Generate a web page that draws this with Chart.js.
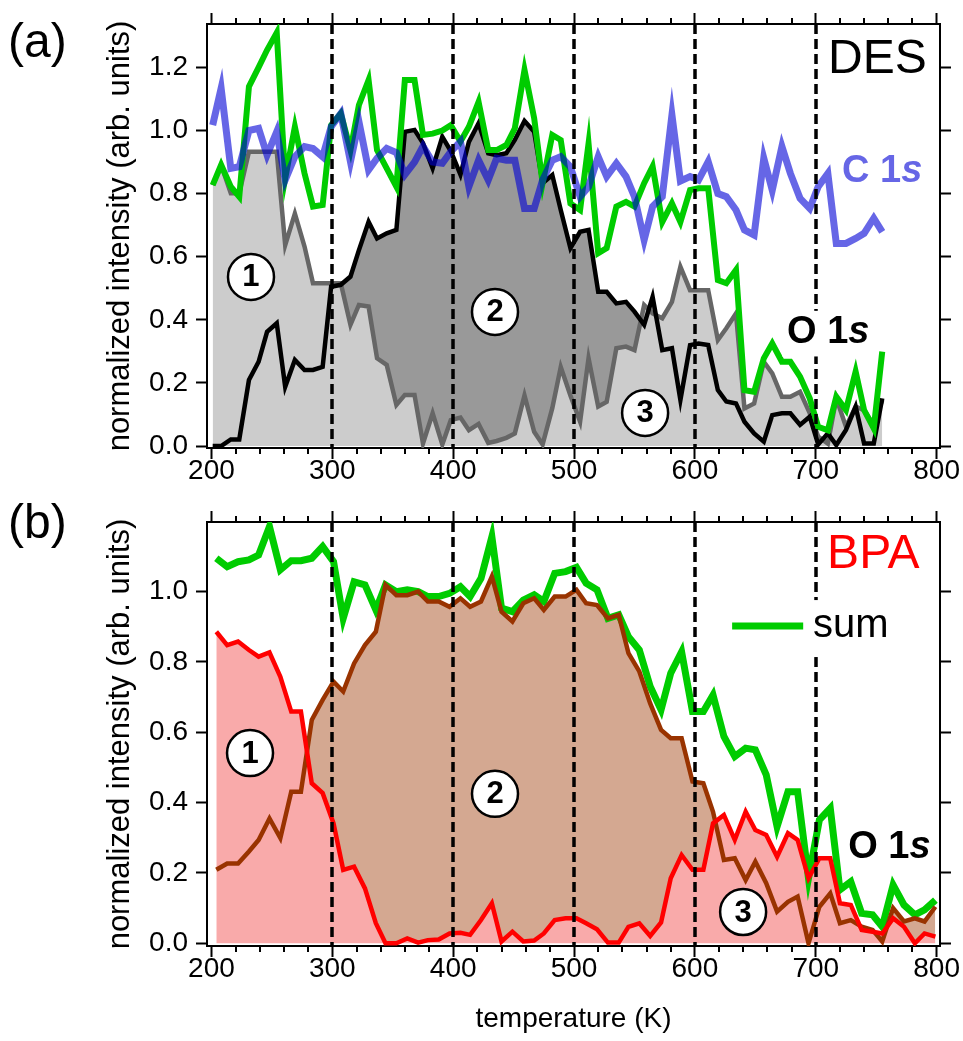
<!DOCTYPE html>
<html>
<head>
<meta charset="utf-8">
<script src="https://cdn.jsdelivr.net/npm/chart.js@4.4.0/dist/chart.umd.min.js"></script>
<style>
  html, body { margin: 0; padding: 0; background: #fff; }
  #wrap { position: relative; width: 963px; height: 1041px; }
  canvas { position: absolute; left: 0; }
  #chartA { top: 0; }
  #chartB { top: 490px; }
</style>
</head>
<body>
<div id="wrap">
  <canvas id="chartA" width="963" height="490"></canvas>
  <canvas id="chartB" width="963" height="551"></canvas>
</div>
<script>
// Axis ticks
const xTicks = [200, 300, 400, 500, 600, 700, 800];
const yTicksA = [0, 0.2, 0.4, 0.6, 0.8, 1.0, 1.2];
const yTicksB = [0, 0.2, 0.4, 0.6, 0.8, 1.0];
const dashedTemps = [300, 400, 500, 600, 700];

// (a) DES
const tempsA = [201, 208, 216, 223, 231, 239, 246, 254, 261, 269, 277, 284, 292, 299, 307, 315, 322, 330, 337, 345,
  353, 360, 368, 375, 383, 391, 398, 406, 413, 421, 429, 436, 444, 451, 459, 467, 474, 482, 489, 497,
  505, 512, 520, 527, 535, 543, 550, 558, 565, 573, 581, 588, 596, 603, 611, 619, 626, 634, 641, 649,
  657, 664, 672, 679, 687, 695, 702, 710, 717, 725, 733, 740, 748, 755];
const c1sA = [1.017, 1.134, 0.88, 0.885, 1.0, 1.007, 0.922, 0.996, 0.843, 0.917, 0.949, 0.943, 0.917, 1.012, 1.054, 0.901, 1.028, 0.875, 0.912, 0.943,
  0.93, 0.86, 0.9, 0.95, 0.9, 0.896, 0.933, 0.965, 0.822, 0.906, 0.843, 0.912, 0.906, 0.906, 0.753, 0.753, 0.843, 0.906, 0.917, 0.885,
  0.79, 0.822, 0.917, 0.854, 0.896, 0.854, 0.79, 0.653, 0.759, 0.79, 1.049, 0.84, 0.854, 0.843, 0.901, 0.8, 0.79, 0.748, 0.685, 0.669,
  0.912, 0.811, 0.949, 0.864, 0.785, 0.753, 0.822, 0.864, 0.642, 0.642, 0.658, 0.674, 0.722, 0.679];
const sumA = [0.827, 0.891, 0.822, 0.79, 1.139, 1.2, 1.255, 1.31, 0.848, 1.012, 0.864, 0.759, 0.764, 1.017, 1.054, 0.938, 1.081, 1.16, 0.938, 0.88,
  0.822, 1.16, 1.16, 0.986, 0.99, 1.0, 1.017, 0.965, 1.012, 1.091, 0.938, 0.938, 0.954, 1.007, 1.192, 1.039, 0.833, 0.986, 0.97, 0.769,
  0.748, 0.959, 0.611, 0.627, 0.759, 0.774, 0.759, 0.833, 0.886, 0.71, 0.769, 0.71, 0.811, 0.817, 0.817, 0.526, 0.516, 0.558, 0.177, 0.172,
  0.278, 0.325, 0.267, 0.267, 0.22, 0.151, 0.061, 0.05, 0.156, 0.114, 0.236, 0.114, 0.056, 0.299];
const species2A = [0.0, 0.0, 0.021, 0.021, 0.209, 0.267, 0.362, 0.389, 0.188, 0.273, 0.241, 0.241, 0.251, 0.505, 0.511, 0.537, 0.621, 0.711, 0.658, 0.674,
  0.685, 0.996, 1.002, 0.96, 0.88, 0.98, 0.935, 0.86, 0.964, 1.023, 0.928, 0.922, 0.928, 0.97, 1.03, 0.996, 0.833, 0.859, 0.748, 0.627,
  0.679, 0.685, 0.489, 0.489, 0.452, 0.457, 0.426, 0.384, 0.473, 0.304, 0.31, 0.146, 0.32, 0.325, 0.32, 0.177, 0.141, 0.135, 0.077, 0.04,
  0.014, 0.098, 0.104, 0.104, 0.067, 0.093, 0.005, 0.04, 0.003, 0.051, 0.125, 0.008, 0.008, 0.151];
const species13A = [0.827, 0.891, 0.801, 0.801, 0.933, 0.933, 0.933, 0.933, 0.637, 0.737, 0.632, 0.516, 0.516, 0.516, 0.516, 0.384, 0.447, 0.442, 0.278, 0.257,
  0.13, 0.162, 0.162, 0.008, 0.104, 0.005, 0.082, 0.09, 0.05, 0.07, 0.01, 0.016, 0.026, 0.04, 0.16, 0.045, 0.005, 0.12, 0.25, 0.16,
  0.077, 0.278, 0.125, 0.14, 0.31, 0.315, 0.304, 0.447, 0.42, 0.405, 0.457, 0.568, 0.494, 0.494, 0.494, 0.336, 0.373, 0.42, 0.119, 0.135,
  0.267, 0.23, 0.156, 0.156, 0.172, 0.104, 0.03, 0.008, 0.151, 0.061, 0.125, 0.114, 0.067, 0.146];

// (b) BPA
const tempsB = [204, 213, 222, 231, 239, 248, 257, 266, 274, 283, 292, 301, 309, 318, 327, 336, 344, 353, 362, 371,
  379, 388, 397, 406, 414, 423, 432, 440, 449, 458, 467, 475, 484, 493, 502, 510, 519, 528, 537, 545,
  554, 563, 572, 580, 589, 598, 607, 615, 624, 633, 642, 650, 659, 668, 677, 685, 694, 703, 712, 720,
  729, 738, 747, 755, 764, 773, 782, 790, 799];
const sumB = [1.095, 1.071, 1.085, 1.09, 1.104, 1.185, 1.062, 1.088, 1.088, 1.095, 1.128, 1.085, 0.924, 1.028, 1.019, 0.948, 1.019, 1.0, 1.005, 1.0,
  0.986, 0.986, 0.995, 1.014, 0.986, 1.038, 1.156, 0.953, 0.943, 0.976, 0.991, 0.972, 1.052, 1.057, 1.069, 1.024, 1.005, 0.924, 0.934, 0.872,
  0.834, 0.73, 0.664, 0.768, 0.829, 0.659, 0.659, 0.706, 0.588, 0.531, 0.555, 0.55, 0.479, 0.332, 0.431, 0.431, 0.185, 0.351, 0.384, 0.152,
  0.175, 0.085, 0.081, 0.047, 0.166, 0.109, 0.081, 0.095, 0.123];
const species2B = [0.209, 0.227, 0.227, 0.261, 0.294, 0.355, 0.299, 0.431, 0.431, 0.635, 0.692, 0.744, 0.716, 0.796, 0.848, 0.886, 1.019, 0.99, 0.99, 1.0,
  0.972, 0.972, 0.957, 0.981, 0.957, 0.972, 1.043, 0.943, 0.915, 0.967, 0.981, 0.948, 0.986, 0.986, 1.005, 0.967, 0.962, 0.924, 0.934, 0.825,
  0.773, 0.682, 0.607, 0.583, 0.583, 0.46, 0.455, 0.374, 0.237, 0.242, 0.18, 0.232, 0.171, 0.09, 0.118, 0.133, 0.0, 0.104, 0.142, 0.057,
  0.066, 0.047, 0.038, 0.005, 0.1, 0.062, 0.071, 0.062, 0.104];
const species13B = [0.886, 0.848, 0.858, 0.834, 0.815, 0.827, 0.758, 0.659, 0.659, 0.455, 0.427, 0.341, 0.209, 0.218, 0.156, 0.057, 0.0, 0.0, 0.014, 0.002,
  0.009, 0.011, 0.028, 0.03, 0.024, 0.066, 0.114, 0.005, 0.033, 0.005, 0.008, 0.028, 0.066, 0.071, 0.071, 0.057, 0.04, 0.002, 0.002, 0.047,
  0.057, 0.021, 0.059, 0.185, 0.251, 0.209, 0.209, 0.341, 0.365, 0.294, 0.374, 0.322, 0.308, 0.246, 0.313, 0.294, 0.185, 0.242, 0.242, 0.114,
  0.109, 0.038, 0.033, 0.028, 0.071, 0.047, 0.0, 0.028, 0.019];

const FONT = '"Liberation Sans", Arial, Helvetica, sans-serif';
Chart.defaults.font.family = FONT;
Chart.defaults.color = "#000";

const xMin = 196.3, xMax = 802.8;

function pairs(temps, values) {
  return temps.map((t, i) => ({ x: t, y: values[i] }));
}

// "O 1s" style label with italic s
function orbitalLabel(ctx, x, y, text, color, size, whiteBox) {
  const normal = "bold " + size + "px " + FONT;
  const italic = "italic bold " + size + "px " + FONT;
  ctx.font = normal;
  const w1 = ctx.measureText(text).width;
  ctx.font = italic;
  const w2 = ctx.measureText("s").width;
  if (whiteBox) {
    ctx.fillStyle = "#fff";
    ctx.fillRect(x - 5, y - size * 0.85, w1 + w2 + 10, size * 1.2);
  }
  ctx.fillStyle = color;
  ctx.textAlign = "left";
  ctx.textBaseline = "alphabetic";
  ctx.font = normal;
  ctx.fillText(text, x, y);
  ctx.font = italic;
  ctx.fillText("s", x + w1, y);
}

function decor(panel) {
  return {
    id: "decor",
    afterDatasetsDraw(chart) {
      const ctx = chart.ctx;
      const { top, bottom } = chart.chartArea;
      const xs = chart.scales.x, ys = chart.scales.y;
      ctx.save();

      // dashed guide lines
      ctx.strokeStyle = "#000";
      ctx.lineWidth = 3.5;
      ctx.setLineDash([10, 5]);
      dashedTemps.forEach(t => {
        const x = Math.round(xs.getPixelForValue(t));
        ctx.beginPath();
        ctx.moveTo(x, top);
        ctx.lineTo(x, bottom);
        ctx.stroke();
      });
      ctx.setLineDash([]);

      // minor ticks, top and bottom
      ctx.lineWidth = 2;
      for (let t = 220; t < 800; t += 20) {
        if (t % 100 === 0) continue;
        const x = Math.round(xs.getPixelForValue(t));
        ctx.beginPath();
        ctx.moveTo(x, bottom);
        ctx.lineTo(x, bottom + 6);
        ctx.moveTo(x, top);
        ctx.lineTo(x, top - 6);
        ctx.stroke();
      }

      // legend for sum
      if (panel.legend) {
        const L = panel.legend;
        ctx.fillStyle = "#fff";
        ctx.fillRect(xs.getPixelForValue(L.box[0]), ys.getPixelForValue(L.box[2]),
          xs.getPixelForValue(L.box[1]) - xs.getPixelForValue(L.box[0]),
          ys.getPixelForValue(L.box[3]) - ys.getPixelForValue(L.box[2]));
        ctx.strokeStyle = "#00cc00";
        ctx.lineWidth = 7;
        ctx.beginPath();
        ctx.moveTo(xs.getPixelForValue(L.line[0]), ys.getPixelForValue(L.line[2]));
        ctx.lineTo(xs.getPixelForValue(L.line[1]), ys.getPixelForValue(L.line[2]));
        ctx.stroke();
        ctx.fillStyle = "#000";
        ctx.font = "40px " + FONT;
        ctx.textAlign = "left";
        ctx.textBaseline = "alphabetic";
        ctx.fillText("sum", xs.getPixelForValue(L.text[0]), ys.getPixelForValue(L.text[1]));
      }

      // sample name
      ctx.fillStyle = panel.name.color;
      ctx.font = "48px " + FONT;
      ctx.textAlign = "left";
      ctx.textBaseline = "alphabetic";
      ctx.fillText(panel.name.text, xs.getPixelForValue(panel.name.x), ys.getPixelForValue(panel.name.y));

      // orbital labels
      panel.orbitals.forEach(o => {
        orbitalLabel(ctx, xs.getPixelForValue(o.x), ys.getPixelForValue(o.y), o.text, o.color, 38, o.box);
      });

      // circled region numbers
      panel.circles.forEach((c, i) => {
        const x = xs.getPixelForValue(c[0]), y = ys.getPixelForValue(c[1]);
        ctx.beginPath();
        ctx.arc(x, y, 23, 0, Math.PI * 2);
        ctx.fillStyle = "#fff";
        ctx.fill();
        ctx.lineWidth = 2.5;
        ctx.strokeStyle = "#000";
        ctx.stroke();
        ctx.fillStyle = "#000";
        ctx.font = "bold 31px " + FONT;
        ctx.textAlign = "center";
        ctx.textBaseline = "middle";
        ctx.fillText(String(i + 1), x, y + 1);
      });

      // panel letter
      ctx.fillStyle = "#000";
      ctx.font = "48px " + FONT;
      ctx.textAlign = "left";
      ctx.textBaseline = "alphabetic";
      ctx.fillText(panel.letter, 8, panel.letterY);
      ctx.restore();
    }
  };
}

function makePanel(id, datasets, yMin, yMax, yTicks, topH, bottomH, showXTitle, panel) {
  const grid = { drawOnChartArea: false, drawTicks: true, tickLength: 11, tickWidth: 2, tickColor: "#000" };
  const border = { display: true, color: "#000", width: 2 };
  const setX = s => { s.ticks = xTicks.map(v => ({ value: v })); };
  const setY = s => { s.ticks = yTicks.map(v => ({ value: v })); };
  return new Chart(document.getElementById(id), {
    type: "line",
    data: { datasets: datasets },
    options: {
      responsive: false,
      animation: false,
      events: [],
      layout: { padding: 0 },
      elements: { point: { radius: 0 }, line: { tension: 0 } },
      plugins: {
        legend: { display: false },
        tooltip: { enabled: false },
        filler: { drawTime: "beforeDatasetsDraw" }
      },
      scales: {
        x: {
          type: "linear", position: "bottom", min: xMin, max: xMax,
          afterBuildTicks: setX, afterFit: s => { s.height = bottomH; },
          grid: grid, border: border,
          ticks: { font: { size: 28, lineHeight: 1 }, padding: -2, maxRotation: 0, autoSkip: false },
          title: { display: showXTitle, text: "temperature (K)", font: { size: 28, lineHeight: 1.2 }, padding: { top: 0, bottom: 5 } }
        },
        x2: {
          type: "linear", position: "top", min: xMin, max: xMax,
          afterBuildTicks: setX, afterFit: s => { s.height = topH; },
          grid: grid, border: border, ticks: { display: false }
        },
        y: {
          type: "linear", position: "left", min: yMin, max: yMax,
          afterBuildTicks: setY, afterFit: s => { s.width = 207; },
          grid: grid, border: border,
          ticks: { font: { size: 28, lineHeight: 1 }, padding: 8, callback: v => v.toFixed(1) },
          title: { display: true, text: "normalized intensity (arb. units)", font: { size: 31, lineHeight: 1.2 }, padding: { top: 102, bottom: 0 } }
        },
        y2: {
          type: "linear", position: "right", min: yMin, max: yMax,
          afterBuildTicks: setY, afterFit: s => { s.width = 23; },
          grid: grid, border: border, ticks: { display: false }
        }
      }
    },
    plugins: [decor(panel)]
  });
}

// Panel (a): DES
makePanel("chartA", [
  { label: "C 1s", data: pairs(tempsA, c1sA), borderColor: "rgba(0,0,213,0.6)", borderWidth: 7, fill: false },
  { label: "sum", data: pairs(tempsA, sumA), borderColor: "#00cc00", borderWidth: 6, fill: false },
  { label: "species 2", data: pairs(tempsA, species2A), borderColor: "#000", borderWidth: 4.5,
    fill: { target: 3, above: "#999999", below: "rgba(0,0,0,0)" } },
  { label: "species 1+3", data: pairs(tempsA, species13A), borderColor: "#666666", borderWidth: 4.5,
    fill: "origin", backgroundColor: "#cccccc" }
], -0.0063, 1.3376, yTicksA, 24, 42, false, {
  letter: "(a)", letterY: 57,
  name: { text: "DES", color: "#000", x: 710.2, y: 1.182 },
  orbitals: [
    { text: "C 1", color: "#6666e6", x: 721.8, y: 0.837, box: false },
    { text: "O 1", color: "#000", x: 676.3, y: 0.326, box: true }
  ],
  circles: [[232.7, 0.536], [434.6, 0.425], [558.8, 0.105]]
});

// Panel (b): BPA
makePanel("chartB", [
  { label: "species 1+3", data: pairs(tempsB, species13B), borderColor: "#ff0000", borderWidth: 4.5,
    fill: "origin", backgroundColor: "#f9aaaa" },
  { label: "species 2", data: pairs(tempsB, species2B), borderColor: "#993300", borderWidth: 4.5,
    fill: { target: 0, above: "#d4a891", below: "rgba(0,0,0,0)" } },
  { label: "sum", data: pairs(tempsB, sumB), borderColor: "#00cc00", borderWidth: 7, fill: false }
], -0.0077, 1.198, yTicksB, 32, 95, true, {
  letter: "(b)", letterY: 48,
  name: { text: "BPA", color: "#ff0000", x: 709.4, y: 1.067 },
  legend: { box: [625, 765, 0.976, 0.814], line: [630.8, 689.6, 0.902], text: [697.8, 0.871] },
  orbitals: [
    { text: "O 1", color: "#000", x: 726.8, y: 0.243, box: false }
  ],
  circles: [[231.9, 0.541], [434.6, 0.425], [639.9, 0.089]]
});
</script>
</body>
</html>
